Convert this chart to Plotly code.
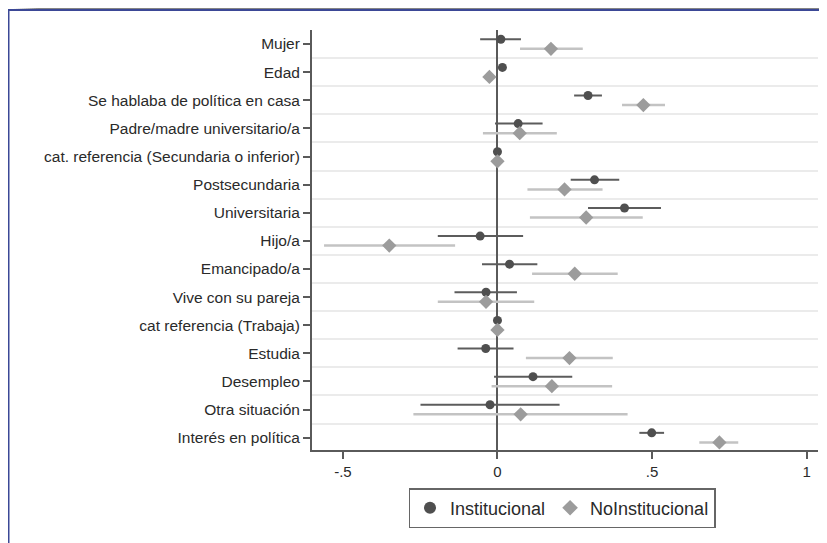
import plotly.graph_objects as go

# ---------------- data ----------------
categories = [
    "Mujer",
    "Edad",
    "Se hablaba de política en casa",
    "Padre/madre universitario/a",
    "cat. referencia (Secundaria o inferior)",
    "Postsecundaria",
    "Universitaria",
    "Hijo/a",
    "Emancipado/a",
    "Vive con su pareja",
    "cat referencia (Trabaja)",
    "Estudia",
    "Desempleo",
    "Otra situación",
    "Interés en política",
]

inst_coef = [0.011, 0.016, 0.293, 0.067, 0.0, 0.314, 0.411, -0.056, 0.039, -0.037, 0.0, -0.038, 0.115, -0.024, 0.499]
inst_lo = [-0.056, 0.011, 0.248, -0.008, 0.0, 0.237, 0.293, -0.193, -0.050, -0.139, 0.0, -0.129, -0.011, -0.249, 0.459]
inst_hi = [0.076, 0.021, 0.338, 0.146, 0.0, 0.394, 0.529, 0.083, 0.129, 0.063, 0.0, 0.052, 0.242, 0.201, 0.539]

noinst_coef = [0.173, -0.026, 0.472, 0.072, 0.0, 0.217, 0.287, -0.350, 0.250, -0.037, 0.0, 0.233, 0.176, 0.075, 0.718]
noinst_lo = [0.073, -0.031, 0.403, -0.047, 0.0, 0.097, 0.105, -0.561, 0.112, -0.193, 0.0, 0.092, -0.019, -0.272, 0.653]
noinst_hi = [0.276, -0.021, 0.542, 0.192, 0.0, 0.340, 0.470, -0.137, 0.389, 0.119, 0.0, 0.373, 0.371, 0.421, 0.779]

x_tickvals = [-0.5, 0, 0.5, 1]
x_ticktext = ["-.5", "0", ".5", "1"]
series_names = ["Institucional", "NoInstitucional"]

# ---------------- layout constants ----------------
# the page body adds an 8px margin, so the figure is drawn 8px in from the window edge
PAGE_OFF = 8
W, H = 827 - PAGE_OFF, 543 - PAGE_OFF
ML, MR, MT, MB = 312 - PAGE_OFF, 9, 30 - PAGE_OFF, 93
PW = W - ML - MR
PH = H - MT - MB


def px_x(p):
    """window pixel x -> paper coordinate"""
    return (p - PAGE_OFF - ML) / PW


def px_y(p):
    """window pixel y -> paper coordinate"""
    return (H - MB - (p - PAGE_OFF)) / PH


rows = list(range(1, len(categories) + 1))
offset = 0.17
y_inst = [r - offset for r in rows]
y_non = [r + offset for r in rows]

fig = go.Figure()

fig.add_trace(go.Scatter(
    x=inst_coef, y=y_inst, mode="markers", name=series_names[0],
    marker=dict(symbol="circle", size=9, color="#4f4f4f"),
    error_x=dict(type="data", symmetric=False,
                 array=[h - c for h, c in zip(inst_hi, inst_coef)],
                 arrayminus=[c - l for c, l in zip(inst_coef, inst_lo)],
                 color="#5c5c5c", thickness=2, width=0),
))
fig.add_trace(go.Scatter(
    x=noinst_coef, y=y_non, mode="markers", name=series_names[1],
    marker=dict(symbol="diamond", size=11, color="#9c9c9c"),
    error_x=dict(type="data", symmetric=False,
                 array=[h - c for h, c in zip(noinst_hi, noinst_coef)],
                 arrayminus=[c - l for c, l in zip(noinst_coef, noinst_lo)],
                 color="#c3c3c3", thickness=2.5, width=0),
))

font_family = "Liberation Sans, Arial, sans-serif"

fig.update_xaxes(
    range=[-0.6, 1.037],
    tickvals=x_tickvals, ticktext=x_ticktext,
    showgrid=False,
    zeroline=True, zerolinecolor="#5a5a5a", zerolinewidth=2,
    showline=True, linecolor="#5a5a5a", linewidth=2,
    ticks="outside", ticklen=7, tickwidth=1.5, tickcolor="#5a5a5a",
    tickfont=dict(family=font_family, size=15, color="#2a2a2a"),
)
fig.update_yaxes(
    range=[15.44, 0.5],
    tickvals=rows, ticktext=categories,
    showgrid=False, zeroline=False,
    showline=True, linecolor="#5a5a5a", linewidth=2,
    ticks="outside", ticklen=7, tickwidth=1.5, tickcolor="#5a5a5a",
    tickfont=dict(family=font_family, size=15.5, color="#2a2a2a"),
    minor=dict(tickmode="array", tickvals=[r + 0.5 for r in rows[:-1]],
               showgrid=True, gridcolor="#ebebeb", gridwidth=2, ticks=""),
)

shapes = []
# top gray band with fade on the left
band_bottom = 9.5
shapes.append(dict(type="rect", xref="paper", yref="paper",
                   x0=px_x(38), x1=px_x(827), y0=px_y(band_bottom), y1=px_y(PAGE_OFF),
                   fillcolor="#858585", line=dict(width=0), layer="above"))
steps = 12
for i in range(steps):
    xa = 14 + (38 - 14) * i / steps
    xb = 14 + (38 - 14) * (i + 1) / steps
    t = (i + 0.5) / steps
    v = int(255 + (0x85 - 255) * t)
    shapes.append(dict(type="rect", xref="paper", yref="paper",
                       x0=px_x(xa), x1=px_x(xb), y0=px_y(band_bottom), y1=px_y(PAGE_OFF),
                       fillcolor=f"rgb({v},{v},{v})", line=dict(width=0), layer="above"))
# blue frame lines
shapes.append(dict(type="line", xref="paper", yref="paper",
                   x0=px_x(PAGE_OFF), x1=px_x(827), y0=px_y(10), y1=px_y(10),
                   line=dict(color="#3b4896", width=2), layer="above"))
shapes.append(dict(type="line", xref="paper", yref="paper",
                   x0=px_x(PAGE_OFF + 0.5), x1=px_x(PAGE_OFF + 0.5), y0=px_y(10), y1=px_y(543),
                   line=dict(color="#3b4896", width=2), layer="above"))

fig.update_layout(
    width=W, height=H,
    margin=dict(l=ML, r=MR, t=MT, b=MB),
    paper_bgcolor="white", plot_bgcolor="white",
    shapes=shapes,
    showlegend=True,
    legend=dict(
        orientation="h", x=px_x(562), xanchor="center",
        y=px_y(488), yanchor="top",
        bordercolor="#666666", borderwidth=1.5,
        font=dict(family=font_family, size=18, color="#2a2a2a"),
        itemsizing="constant",
    ),
)

fig.write_html("out.html")
